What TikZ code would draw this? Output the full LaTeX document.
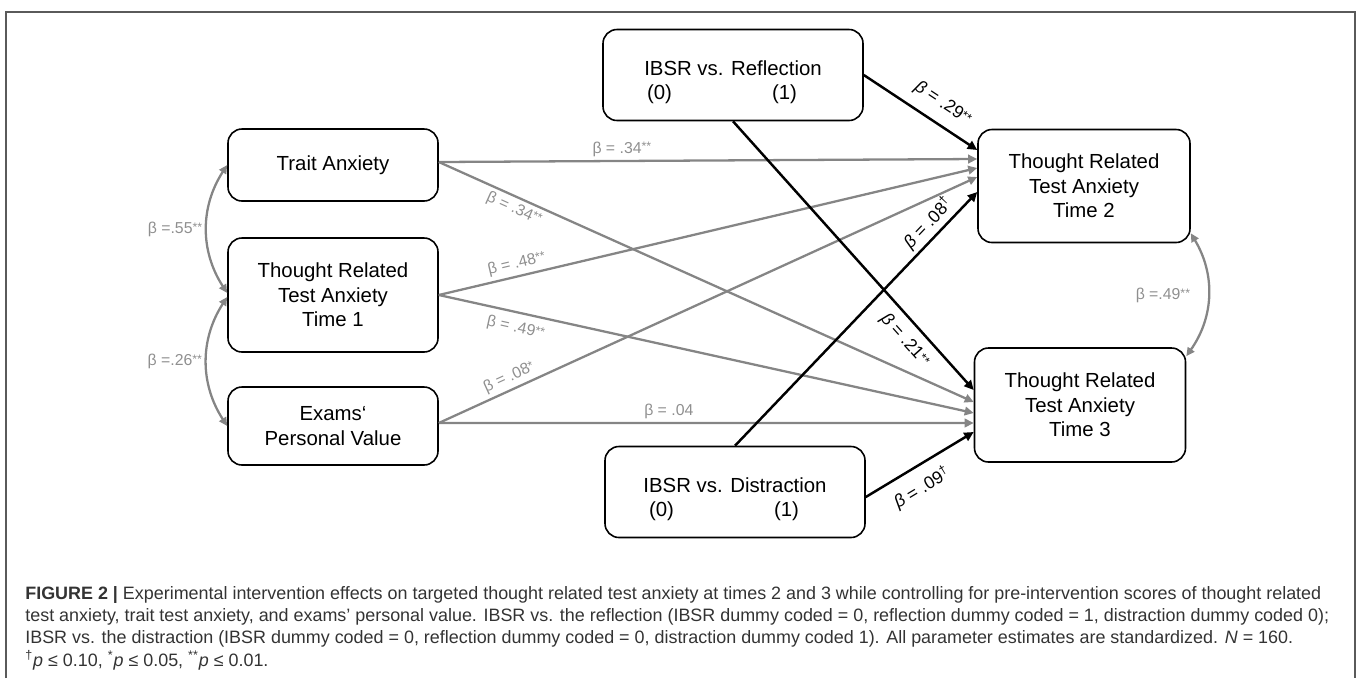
\documentclass[tikz,border=0pt]{standalone}
\usepackage{fontspec}
\setmainfont{Liberation Sans}
\usetikzlibrary{arrows.meta}

\definecolor{pathgray}{HTML}{858585}
\definecolor{labelgray}{HTML}{8F8F8F}
\definecolor{framegray}{HTML}{5A5A5A}
\definecolor{captext}{HTML}{333333}

\newcommand{\sigmark}[1]{\raisebox{0.25ex}{\fontsize{7}{7}\selectfont #1}}

\begin{document}
\begin{tikzpicture}[
        varbox/.style={draw=black, line width=0.9pt, rounded corners=0.28cm, align=center, inner sep=0pt,
            font=\fontsize{11.6}{13.9}\selectfont},
        graypath/.style={draw=pathgray, line width=1.3pt, -{Triangle[length=0.18cm, width=0.17cm]}},
        blackpath/.style={draw=black, line width=1.4pt, -{Triangle[length=0.19cm, width=0.18cm]}},
        corrpath/.style={draw=pathgray, line width=1.3pt,
            {Triangle[length=0.17cm, width=0.16cm]}-{Triangle[length=0.17cm, width=0.16cm]}},
        graylabel/.style={text=labelgray, font=\fontsize{9}{10}\selectfont, inner sep=2pt},
        blacklabel/.style={text=black, font=\fontsize{10}{11}\selectfont, inner sep=2pt}
    ]

        \useasboundingbox (0,0) rectangle (27.14,-13.56);
        \draw[framegray, line width=0.8pt] (0.12,-13.56) -- (0.12,-0.24) -- (27.10,-0.24) -- (27.10,-13.56);

        \node[varbox, minimum width=4.2cm, minimum height=1.44cm] (trait) at (6.66,-3.30) {Trait Anxiety};
        \node[varbox, minimum width=4.2cm, minimum height=2.28cm] (tra1) at (6.66,-5.90) {Thought Related\\Test Anxiety\\Time 1};
        \node[varbox, minimum width=4.2cm, minimum height=1.56cm] (exams) at (6.66,-8.52) {Exams‘\\Personal Value};

        \node[varbox, minimum width=5.2cm, minimum height=1.82cm] (refl) at (14.66,-1.50) {\rule{0pt}{0.58cm}IBSR vs. Reflection\\(0)\hspace{2cm}(1)\hspace*{0.44cm}};
        \node[varbox, minimum width=5.2cm, minimum height=1.82cm] (dist) at (14.70,-9.84) {\rule{0pt}{0.58cm}IBSR vs. Distraction\\(0)\hspace{2cm}(1)\hspace*{0.44cm}};

        \node[varbox, minimum width=4.24cm, minimum height=2.26cm] (tra2) at (21.68,-3.72) {Thought Related\\Test Anxiety\\Time 2};
        \node[varbox, minimum width=4.22cm, minimum height=2.28cm] (tra3) at (21.60,-8.10) {Thought Related\\Test Anxiety\\Time 3};

        \draw[graypath] ([yshift=0.06cm]trait.east) -- node[graylabel, above, pos=0.34] {β = .34\sigmark{**}} ([yshift=0.54cm]tra2.west);
        \draw[graypath] ([yshift=0.06cm]trait.east) -- node[graylabel, sloped, below, pos=0.15] {β = .34\sigmark{**}} ([yshift=0.06cm]tra3.west);
        \draw[graypath] (tra1.east) -- node[graylabel, sloped, above, pos=0.15] {β = .48\sigmark{**}} ([yshift=0.36cm]tra2.west);
        \draw[graypath] (tra1.east) -- node[graylabel, sloped, below=2pt, pos=0.15] {β = .49\sigmark{**}} ([yshift=-0.16cm]tra3.west);
        \draw[graypath] ([yshift=0.06cm]exams.east) -- node[graylabel, sloped, above, pos=0.14] {β = .08\sigmark{*}} ([yshift=0.18cm]tra2.west);
        \draw[graypath] ([yshift=0.06cm]exams.east) -- node[graylabel, above, pos=0.43] {β = .04} ([yshift=-0.36cm]tra3.west);

        \draw[blackpath] (refl.east) -- node[blacklabel, sloped, above=4pt, pos=0.6] {\textit{β} = .29\sigmark{**}} ([yshift=0.72cm]tra2.west);
        \draw[blackpath] (refl.south) -- node[blacklabel, sloped, below=3pt, pos=0.77] {\textit{β} = .21\sigmark{**}} ([yshift=0.30cm]tra3.west);
        \draw[blackpath] (dist.north) -- node[blacklabel, sloped, above, pos=0.84] {\textit{β} = .08\textsuperscript{†}} ([yshift=-0.12cm]tra2.west);
        \draw[blackpath] ([yshift=-0.1cm]dist.east) -- node[blacklabel, sloped, below=4pt, pos=0.42] {\textit{β} = .09\textsuperscript{†}} ([yshift=-0.54cm]tra3.west);

        \draw[corrpath] (trait.west) to[bend right=33] node[graylabel, left] {β =.55\sigmark{**}} ([yshift=0.04cm]tra1.west);
        \draw[corrpath] ([yshift=-0.04cm]tra1.west) to[bend right=33] node[graylabel, left] {β =.26\sigmark{**}} (exams.west);
        \draw[corrpath] ([yshift=0.2cm]tra2.south east) to[bend left=33] node[graylabel, left, xshift=-0.27cm] {β =.49\sigmark{**}} ([yshift=-0.18cm]tra3.north east);

        \node[anchor=north west, align=left, inner sep=0pt, text=captext, font=\fontsize{10.2}{12.7}\selectfont] (caption) at (0.5,-11.72)
            {\textbf{FIGURE 2 |} Experimental intervention effects on targeted thought related test anxiety at times 2 and 3 while controlling for pre-intervention scores of thought related\\
            test anxiety, trait test anxiety, and exams’ personal value. IBSR vs. the reflection (IBSR dummy coded = 0, reflection dummy coded = 1, distraction dummy coded 0);\\
            IBSR vs. the distraction (IBSR dummy coded = 0, reflection dummy coded = 0, distraction dummy coded 1). All parameter estimates are standardized. \textit{N} = 160.\\
            \textsuperscript{†}\textit{p} ≤ 0.10, \textsuperscript{*}\textit{p} ≤ 0.05, \textsuperscript{**}\textit{p} ≤ 0.01.};
    \end{tikzpicture}
\end{document}
